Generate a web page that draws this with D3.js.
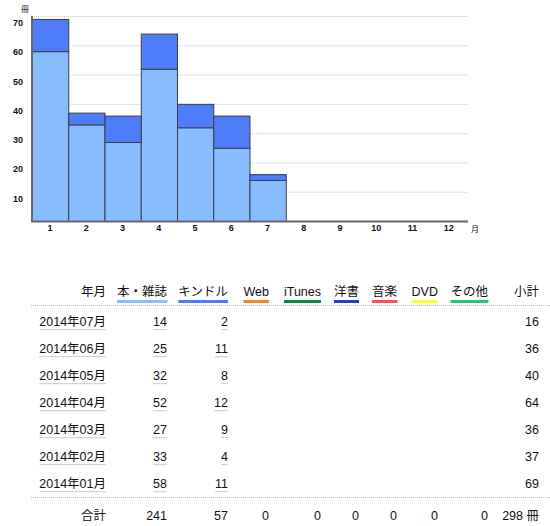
<!DOCTYPE html>
<html>
<head>
<meta charset="utf-8">
<script src="https://cdn.jsdelivr.net/npm/d3@7"></script>
<style>
  body { margin: 0; background: #fff; }
  svg text { font-family: "Liberation Sans", "Noto Sans CJK JP", sans-serif; }
</style>
</head>
<body>
<div id="chart"></div>
<script>
// data
const months = ["1","2","3","4","5","6","7","8","9","10","11","12"];
const books  = [58, 33, 27, 52, 32, 25, 14, 0, 0, 0, 0, 0];
const kindle = [11, 4, 9, 12, 8, 11, 2, 0, 0, 0, 0, 0];
const yTicks = [10, 20, 30, 40, 50, 60, 70];

const rowLabels = ["2014年01月","2014年02月","2014年03月","2014年04月","2014年05月","2014年06月","2014年07月"];
const headers = ["本・雑誌","キンドル","Web","iTunes","洋書","音楽","DVD","その他"];
const headerColors = ["#88bdff","#4d7cf6","#f7821e","#0c8746","#1f42c2","#ff4d5e","#ffff2e","#22c57a"];
const totals = [241, 57, 0, 0, 0, 0, 0, 0];

const W = 550, H = 526;
const svg = d3.select("#chart").append("svg")
  .attr("width", W).attr("height", H);

// ---- bar chart
const x = d3.scaleBand().domain(months).range([32, 467]).padding(0);
const y = d3.scaleLinear().domain([0, 70]).range([221, 16]);

const g = svg.append("g");

// grid
g.selectAll("line.grid").data(yTicks).join("line")
  .attr("x1", 32).attr("x2", 467)
  .attr("y1", d => y(d) + 0.5).attr("y2", d => y(d) + 0.5)
  .attr("stroke", "#c8c8c8").attr("stroke-dasharray", "1,1");

g.selectAll("text.ytick").data(yTicks).join("text")
  .attr("x", 23).attr("y", d => y(d) + 10)
  .attr("text-anchor", "end")
  .attr("font-size", 9).attr("font-weight", "bold").attr("fill", "#111")
  .text(d => d);

g.append("text").attr("x", 25).attr("y", 12)
  .attr("font-size", 8).attr("text-anchor", "middle").attr("fill", "#111").text("冊");

const stackData = months.map((m, i) => ({ m, b: books[i], k: kindle[i] }));

g.selectAll("rect.book").data(stackData).join("rect")
  .attr("x", d => x(d.m) + 0.5).attr("width", x.bandwidth())
  .attr("y", d => y(d.b) + 0.5).attr("height", d => y(0) - y(d.b))
  .attr("fill", "#87bdff").attr("stroke", "#3c3c4a").attr("stroke-width", 1);

g.selectAll("rect.kindle").data(stackData).join("rect")
  .attr("x", d => x(d.m) + 0.5).attr("width", x.bandwidth())
  .attr("y", d => y(d.b + d.k) + 0.5).attr("height", d => y(d.b) - y(d.b + d.k))
  .attr("fill", "#4e7cfb").attr("stroke", "#3c3c4a").attr("stroke-width", 1);

// axes lines
g.append("line").attr("x1", 32).attr("x2", 32).attr("y1", 16).attr("y2", 222)
  .attr("stroke", "#666").attr("stroke-width", 2);
g.append("line").attr("x1", 31).attr("x2", 468).attr("y1", 221.5).attr("y2", 221.5)
  .attr("stroke", "#666").attr("stroke-width", 2);

g.selectAll("text.xtick").data(months).join("text")
  .attr("x", d => x(d) + x.bandwidth() / 2).attr("y", 231)
  .attr("text-anchor", "middle")
  .attr("font-size", 9).attr("font-weight", "bold").attr("fill", "#111")
  .text(d => d);

g.append("text").attr("x", 475).attr("y", 232)
  .attr("font-size", 8).attr("text-anchor", "middle").attr("fill", "#111").text("月");

// ---- table
const colRight = [106, 167, 228, 269, 321, 359, 397, 438, 488, 539];
const t = svg.append("g").attr("font-size", 12.5).attr("fill", "#111");

const headY = 296;
t.append("text").attr("x", colRight[0]).attr("y", headY).attr("text-anchor", "end").text("年月");
headers.forEach((h, i) => {
  const tx = t.append("text").attr("x", colRight[i + 1]).attr("y", headY)
    .attr("text-anchor", "end").text(h);
  const bb = tx.node().getBBox();
  t.append("rect").attr("x", bb.x).attr("width", bb.width)
    .attr("y", 300).attr("height", 3).attr("fill", headerColors[i]);
});
t.append("text").attr("x", colRight[9]).attr("y", headY).attr("text-anchor", "end").text("小計");

t.selectAll("line.sep").data([305.5, 497.5]).join("line")
  .attr("x1", 31).attr("x2", 550).attr("y1", d => d).attr("y2", d => d)
  .attr("stroke", "#bbb").attr("stroke-dasharray", "1,1");

const rowY = d3.scalePoint().domain(d3.range(7)).range([326, 488]);
const order = d3.range(6, -1, -1); // newest first

function underlined(xr, yy, str, under) {
  const tx = t.append("text").attr("x", xr).attr("y", yy).attr("text-anchor", "end").text(str);
  if (under) {
    const bb = tx.node().getBBox();
    t.append("rect").attr("x", bb.x).attr("width", bb.width)
      .attr("y", yy + 3).attr("height", 1.2).attr("fill", "#d4d4d4");
  }
}

order.forEach((mi, r) => {
  const yy = rowY(r);
  underlined(colRight[0], yy, rowLabels[mi], true);
  underlined(colRight[1], yy, books[mi], true);
  underlined(colRight[2], yy, kindle[mi], true);
  underlined(colRight[9], yy, books[mi] + kindle[mi], false);
});

const totY = 520;
t.append("text").attr("x", colRight[0]).attr("y", totY).attr("text-anchor", "end").text("合計");
totals.forEach((v, i) => {
  t.append("text").attr("x", colRight[i + 1]).attr("y", totY).attr("text-anchor", "end").text(v);
});
t.append("text").attr("x", colRight[9]).attr("y", totY).attr("text-anchor", "end")
  .text(d3.sum(totals) + " 冊");
</script>
</body>
</html>
